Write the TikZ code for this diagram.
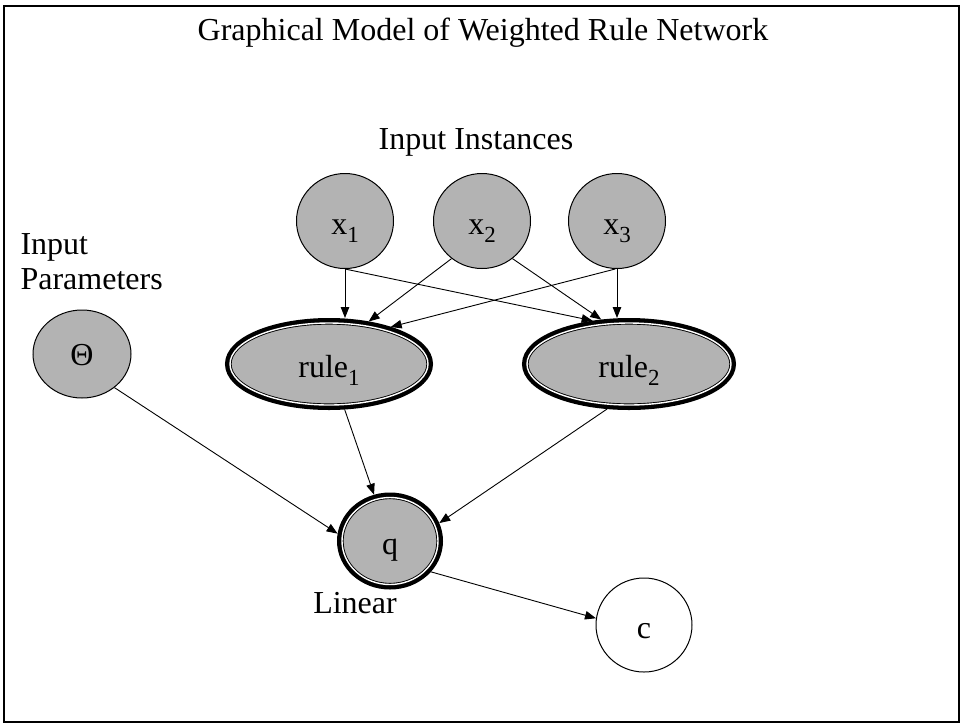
\documentclass[tikz,border=0pt]{standalone}
\usepackage{fontspec}
\setmainfont{Liberation Serif}
\usetikzlibrary{arrows.meta, positioning, shapes.geometric}
\definecolor{nodegray}{RGB}{179,179,179}
\newcommand\lowidx[1]{\raisebox{-0.25em}{\fontsize{23}{23}\selectfont #1}}

\begin{document}
\begin{tikzpicture}[
  x=1pt, y=-1pt,
  every node/.style={font=\fontsize{32}{36}\selectfont},
  var/.style={ellipse, draw, fill=nodegray, line width=1pt, inner sep=0pt, text height=26pt, text depth=0pt, minimum width=97pt, minimum height=95pt},
  free/.style={var, fill=white},
  det/.style={ellipse, fill=nodegray, inner sep=0pt, outer sep=5pt, text height=26pt, text depth=0pt,
    preaction={draw, line width=10pt},
    draw, line width=0.9pt, double=white, double distance=1.4pt},
  link/.style={-{Triangle[length=11pt, width=8.5pt]}, line width=0.9pt}
]
  \useasboundingbox (0,0) rectangle (961,724);
  \draw[line width=2pt] (3.5,5.5) rectangle (958.5,721.5);

  % labels
  \node (title) at (483,33) {Graphical Model of Weighted Rule Network};
  \node (inst) at (476,142) {Input Instances};
  \node[anchor=west, align=left, font=\fontsize{32}{35}\selectfont] (params) at (17,262) {Input\\Parameters};
  \node (lin) at (355,603) {Linear};

  % inputs
  \node[var] (x1) at (345,221) {x\lowidx{1}};
  \node[var] (x2) at (482,221) {x\lowidx{2}};
  \node[var] (x3) at (617,221) {x\lowidx{3}};
  \node[var, text height=22pt, minimum width=98pt, minimum height=88pt] (theta) at (82,354) {Θ};

  % rules and output
  \node[det, minimum width=198pt, minimum height=82pt] (rule1) at (329,364) {rule\lowidx{1}};
  \node[det, minimum width=204pt, minimum height=82pt] (rule2) at (629,364) {rule\lowidx{2}};
  \node[det, minimum width=96pt, minimum height=87pt] (q) at (390,541) {q};
  \node[free, minimum width=96pt, minimum height=94pt] (c) at (644,625) {c};

  \draw[link] (x1.south) -- (x1.south |- rule1.north);
  \draw[link] (x1.south) -- (rule2.130);
  \draw[link] (x2.231) -- (rule1.47);
  \draw[link] (x2.309) -- (rule2.122);
  \draw[link] (x3.268) -- (rule1.31);
  \draw[link] (x3.south) -- (x3.south |- rule2.north);
  \draw[link] (rule1.289) -- (q.109);
  \draw[link] (rule2.244) -- (q.20);
  \draw[link] (theta.314) -- (q.172);
  \draw[link] (q.323) -- (c.172);
\end{tikzpicture}
\end{document}
